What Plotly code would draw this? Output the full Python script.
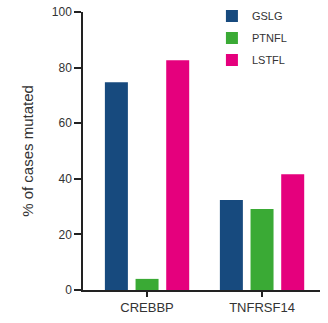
import plotly.graph_objects as go

genes = ["CREBBP", "TNFRSF14"]
series_names = ["GSLG", "PTNFL", "LSTFL"]
gslg = [74.7, 32.4]
ptnfl = [4.0, 29.1]
lstfl = [82.6, 41.6]
colors = ["#174a7e", "#3aaa35", "#e5007d"]
y_ticks = [0, 20, 40, 60, 80, 100]

fig = go.Figure()
for name, vals, c in zip(series_names, [gslg, ptnfl, lstfl], colors):
    fig.add_trace(go.Bar(x=genes, y=vals, name=name, legendgroup=name,
                         marker=dict(color=c, line=dict(width=0))))

font = dict(family="Liberation Sans, Arial, sans-serif", size=12, color="#333333")
fig.update_layout(
    width=328, height=323,
    margin=dict(l=83, r=8, t=12, b=33, autoexpand=False),
    paper_bgcolor="white", plot_bgcolor="white",
    barmode="group", bargap=0.2, bargroupgap=0.25,
    font=font,
    showlegend=True,
    legend=dict(x=0.544, y=1.038, xanchor="left", yanchor="top", bgcolor="rgba(0,0,0,0)",
                font=dict(size=11, color="#333333"), traceorder="grouped", tracegroupgap=3),
    xaxis=dict(range=[-0.557, 1.504], showline=True, linecolor="#222", linewidth=1.5,
               ticks="outside", ticklen=5, tickcolor="#222", tickwidth=1.5, showgrid=False,
               tickfont=dict(size=13)),
    yaxis=dict(range=[0, 100], tickvals=y_ticks, showline=True, linecolor="#222", linewidth=1.5,
               ticks="outside", ticklen=7, tickcolor="#222", tickwidth=1.5, showgrid=False,
               zeroline=False, tickfont=dict(size=12), ticklabeloverflow="allow",
               title=dict(text="% of cases mutated", font=dict(size=15, color="#333333"), standoff=15)),
)
fig.write_html("out.html", config={"displayModeBar": False},
               post_script="document.body.style.margin='0';")
